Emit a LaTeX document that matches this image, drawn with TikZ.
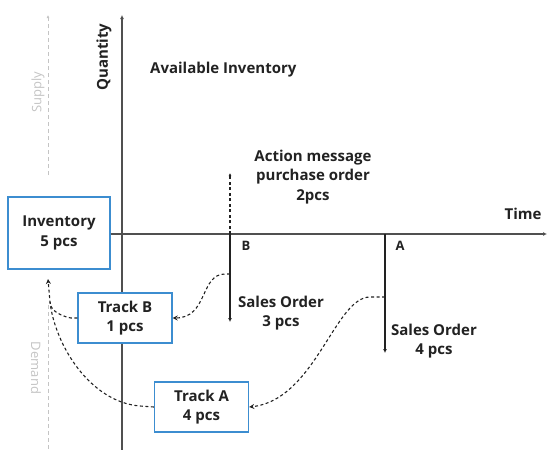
\documentclass[tikz,border=0pt]{standalone}
\usepackage{fontspec}
\setmainfont{Open Sans}
\usetikzlibrary{arrows.meta}
\definecolor{boxblue}{HTML}{3C8DD0}
\definecolor{axisgray}{HTML}{505050}
\definecolor{lightg}{HTML}{C4C4C4}
\definecolor{txt}{HTML}{222222}
\tikzset{
  lbl/.style={font=\bfseries\fontsize{15}{19.5}\selectfont, text=txt, align=center, inner sep=0pt},
  smalllbl/.style={font=\bfseries\fontsize{13}{14}\selectfont, text=txt, inner sep=0pt},
  faint/.style={font=\fontsize{13}{15}\selectfont, text=lightg, inner sep=0pt},
  trackbox/.style={draw=boxblue, line width=1.4pt, fill=white, lbl, minimum width=94pt, minimum height=50pt},
  axisline/.style={draw=axisgray, line width=1.6pt, -{Latex[length=4pt,width=4pt]}},
  soline/.style={draw=txt, line width=1.3pt, -{Latex[length=4pt,width=4pt]}},
  dashcurve/.style={draw=txt, line width=1.1pt, dash pattern=on 3pt off 2.5pt, -{Stealth[length=5pt,width=5pt]}},
  graydash/.style={draw=lightg, line width=1pt, dash pattern=on 4pt off 3pt}
}
\begin{document}
\begin{tikzpicture}[x=1pt,y=-1pt]
\useasboundingbox (0,0) rectangle (547,450);
% boxes
\node[trackbox, minimum width=102pt, minimum height=72pt] (inv) at (59,233) {Inventory\\5 pcs};
% axes
\coordinate (ybot) at (122,450);
\coordinate (ytop) at (122,15);
\coordinate (xend) at (547,234);
\draw[axisline] (ybot) -- (ytop);
\draw[axisline] (inv.east |- 0,234) -- (xend);
\node[trackbox] (tb) at (125,318) {Track B\\1 pcs};
\node[trackbox] (ta) at (201.5,407) {Track A\\4 pcs};
% labels
\node[lbl, rotate=90] (qty) at (104,57) {Quantity};
\node[lbl, anchor=west] (avail) at (150,70) {Available Inventory};
\node[lbl] (time) at (523,214) {Time};
\node[smalllbl] (lb) at (246,246) {B};
\node[smalllbl] (la) at (400,246) {A};
\node[lbl] (act) at (313,177) {Action message\\purchase order\\2pcs};
\node[lbl] (so3) at (281,313) {Sales Order\\3 pcs};
\node[lbl] (so4) at (434,341) {Sales Order\\4 pcs};
\node[faint, rotate=90] (sup) at (38,92) {Supply};
\node[faint, rotate=-90] (dem) at (36,368) {Demand};
% supply / demand guides
\coordinate (s1) at (48,175);
\coordinate (s2) at (48,15);
\draw[graydash, -{Latex[length=3pt,width=3pt]}] (s1) -- (s2);
\coordinate (d1) at (48,305);
\coordinate (d2) at (48,450);
\draw[graydash] (d1) -- (d2);
% sales orders
\coordinate (b0) at (230,234);
\coordinate (b1) at (230,322);
\coordinate (bup) at (230,173);
\coordinate (a0) at (385,234);
\coordinate (a1) at (385,353);
\draw[soline] (b0) -- (b1);
\draw[soline] (a0) -- (a1);
\draw[dashcurve, -{Latex[length=3pt,width=3pt]}] (b0) -- (bup);
% tracking curves
\coordinate (bs) at (230,274);
\coordinate (as) at (385,297);
\coordinate (invin) at (48,279);
\coordinate (join) at (50,302);
\draw[dashcurve] (bs) -- (225,274) .. controls (200,274) and (208,318) .. (tb.east);
\draw[dashcurve] (as) -- (370,297) .. controls (335,297) and (315,400) .. (ta.east);
\draw[dashcurve] (tb.west) -- (71,318) .. controls (56,315) and (50,308) .. (join) -- (invin);
\draw[dashcurve, -] (ta.west) -- (140,406) .. controls (90,402) and (55,345) .. (join);
\end{tikzpicture}
\end{document}
